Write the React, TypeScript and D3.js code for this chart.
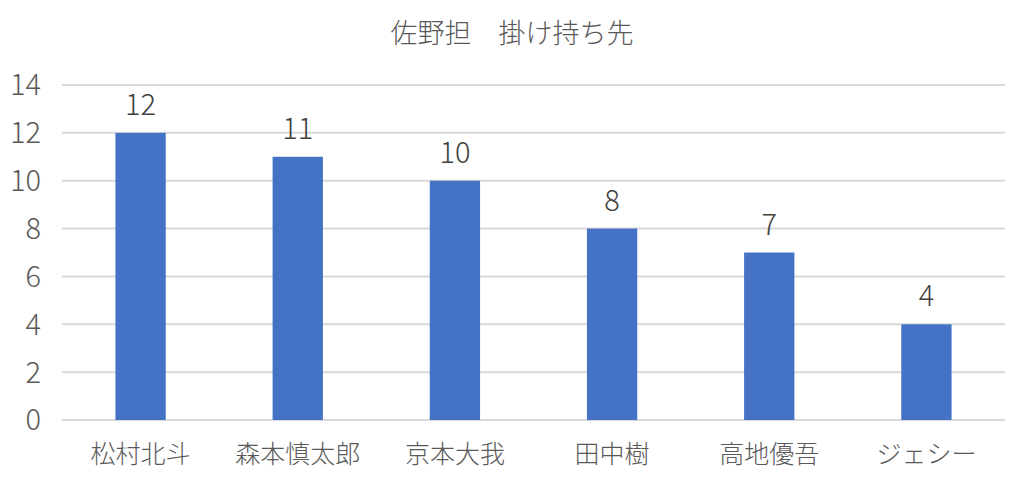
import React from "react";
import * as d3 from "d3";

const categories = ["松村北斗", "森本慎太郎", "京本大我", "田中樹", "高地優吾", "ジェシー"];
const values = [12, 11, 10, 8, 7, 4];
const yTicks = [0, 2, 4, 6, 8, 10, 12, 14];
const title = "佐野担　掛け持ち先";

const W = 1024;
const H = 482;
const left = 62;
const right = 1005;
const top = 85;
const bottom = 420;
const font = "'Noto Sans CJK JP', 'Noto Sans', sans-serif";

export default function App() {
  const x = d3.scaleBand<string>().domain(categories).range([left, right]).paddingInner(0.68).paddingOuter(0.34);
  const y = d3.scaleLinear().domain([0, 14]).range([bottom, top]);
  return (
    <svg width={W} height={H} style={{ position: "absolute", left: 0, top: 0, background: "#fff" }}>
      <text x={512} y={43} textAnchor="middle" fontFamily={font} fontSize={27} fontWeight={300} fill="#595959">
        {title}
      </text>
      {yTicks.map((t) => (
        <g key={t}>
          <line x1={left} x2={right} y1={y(t)} y2={y(t)} stroke="#d9d9d9" strokeWidth={2} />
          <text x={41} y={y(t)} dy="0.36em" textAnchor="end" fontFamily={font} fontSize={29} fontWeight={300} fill="#595959">
            {t}
          </text>
        </g>
      ))}
      {categories.map((c, i) => (
        <g key={c}>
          <rect x={x(c)} y={y(values[i])} width={x.bandwidth()} height={y(0) - y(values[i])} fill="#4472C4" />
          <text x={(x(c) as number) + x.bandwidth() / 2} y={y(values[i]) - 18} textAnchor="middle" fontFamily={font} fontSize={29} fontWeight={300} fill="#404040">
            {values[i]}
          </text>
          <text x={(x(c) as number) + x.bandwidth() / 2} y={463} textAnchor="middle" fontFamily={font} fontSize={25} fontWeight={300} fill="#595959">
            {c}
          </text>
        </g>
      ))}
    </svg>
  );
}
